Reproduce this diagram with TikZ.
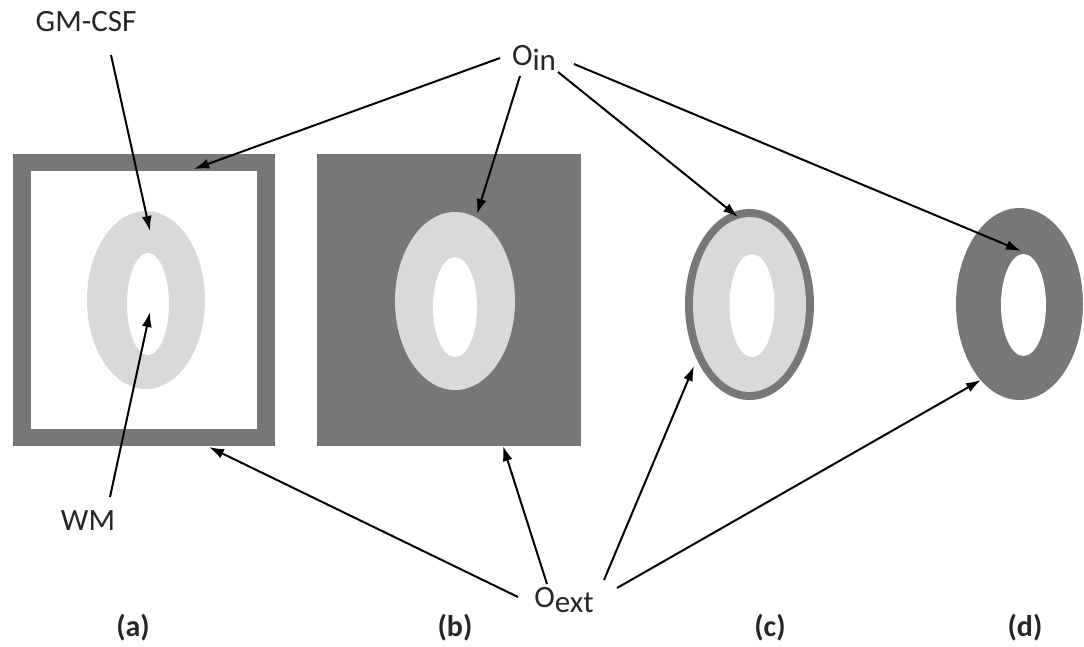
\documentclass[tikz,border=0pt]{standalone}
\usepackage{fontspec}
\setmainfont{Carlito}
\usetikzlibrary{arrows.meta}
\definecolor{darkgr}{HTML}{777777}
\definecolor{lightgr}{HTML}{D9D9D9}
\tikzset{
  lbl/.style={inner sep=1pt, text=black!85, font=\fontsize{31}{34}\selectfont},
  panellabel/.style={inner sep=1pt, text=black!85, font=\fontsize{30}{33}\selectfont\bfseries},
  pointer/.style={line width=2pt, -{Latex[length=15pt,width=10pt]}},
}
\begin{document}
\begin{tikzpicture}[x=1pt,y=-1pt]
\useasboundingbox (0,0) rectangle (1084,646);

% (a) framed square with ring
\fill[darkgr] (13,154) rectangle (275,446);
\fill[white] (31,171) rectangle (257,429);
\fill[lightgr] (146,300) ellipse [x radius=59, y radius=89];
\fill[white] (148,304) ellipse [x radius=21, y radius=51];

% (b) filled square with ring
\fill[darkgr] (317,154) rectangle (581,446);
\fill[lightgr] (455,301) ellipse [x radius=60, y radius=89];
\fill[white] (455,307) ellipse [x radius=22, y radius=50];

% (c) ring with thin dark rim
\fill[darkgr] (749.5,304.5) ellipse [x radius=64.5, y radius=95.5];
\fill[lightgr] (749.5,304.5) ellipse [x radius=56.5, y radius=87.5];
\fill[white] (752,305.5) ellipse [x radius=22.5, y radius=51.5];

% (d) dark ring
\fill[darkgr] (1019.5,304) ellipse [x radius=63.5, y radius=96];
\fill[white] (1023.5,305) ellipse [x radius=22.5, y radius=51];

% labels
\node[lbl] (gm) at (86,22) {GM-CSF};
\node[lbl] (wm) at (88,521) {WM};
\node[lbl] (oin) at (534,58) {O\raisebox{-0.3ex}{in}};
\node[lbl] (oext) at (564,600) {O\raisebox{-0.3ex}{ext}};
\node[panellabel] (la) at (133,628) {(a)};
\node[panellabel] (lb) at (455,628) {(b)};
\node[panellabel] (lc) at (770,628) {(c)};
\node[panellabel] (ld) at (1025,628) {(d)};

% arrow targets
\coordinate (tgm) at (150,231);
\coordinate (twm) at (150,312);
\coordinate (tina) at (194,169);
\coordinate (tinb) at (477,214);
\coordinate (tinc) at (738,217);
\coordinate (tind) at (1021,251);
\coordinate (texa) at (209,447);
\coordinate (texb) at (503,446);
\coordinate (texc) at (694,366);
\coordinate (texd) at (981,380);

% arrow start points on the labels
\coordinate (sgm) at (111,55);
\coordinate (swm) at (110,497);
\coordinate (sina) at (500,58);
\coordinate (sinb) at (520,76);
\coordinate (sinc) at (558,72);
\coordinate (sind) at (574,64);
\coordinate (sexa) at (518,597);
\coordinate (sexb) at (547,584);
\coordinate (sexc) at (604,580);
\coordinate (sexd) at (617,588);

\draw[pointer] (sgm) -- (tgm);
\draw[pointer] (swm) -- (twm);
\draw[pointer] (sina) -- (tina);
\draw[pointer] (sinb) -- (tinb);
\draw[pointer] (sinc) -- (tinc);
\draw[pointer] (sind) -- (tind);
\draw[pointer] (sexa) -- (texa);
\draw[pointer] (sexb) -- (texb);
\draw[pointer] (sexc) -- (texc);
\draw[pointer] (sexd) -- (texd);
\end{tikzpicture}
\end{document}
